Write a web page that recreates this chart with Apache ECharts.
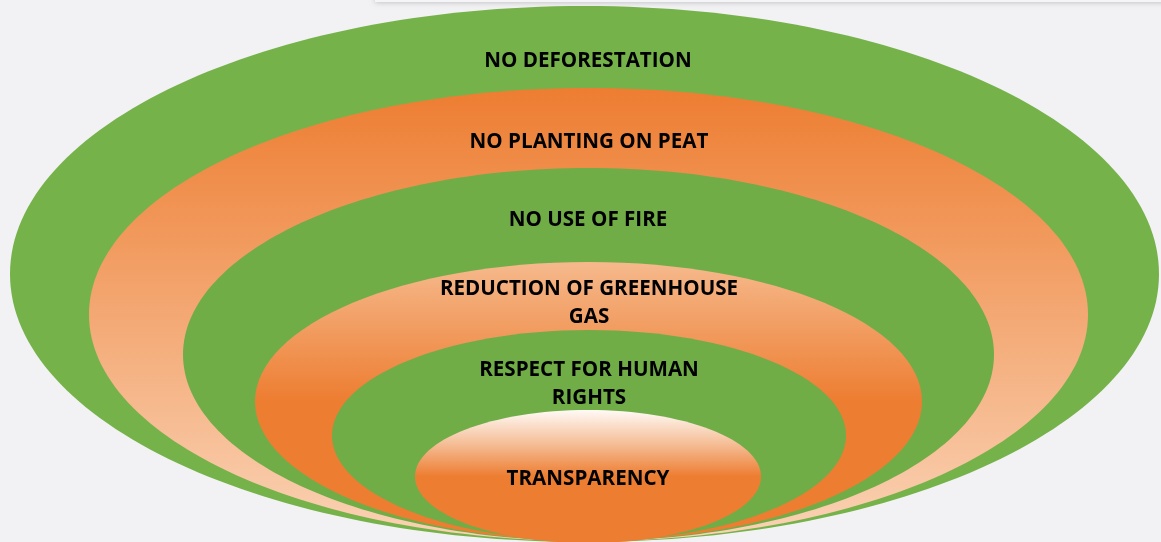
<!DOCTYPE html>
<html>
<head>
<meta charset="utf-8">
<script src="https://cdn.jsdelivr.net/npm/echarts@6/dist/echarts.min.js"></script>
<style>
html,body{margin:0;padding:0;background:#f2f2f4;}
#chart{width:1161px;height:542px;}
</style>
</head>
<body>
<div id="chart"></div>
<script>
// Layers from outermost to innermost
const layerNames = [
  'NO DEFORESTATION',
  'NO PLANTING ON PEAT',
  'NO USE OF FIRE',
  'REDUCTION OF GREENHOUSE\nGAS',
  'RESPECT FOR HUMAN\nRIGHTS',
  'TRANSPARENCY'
];
// Ellipse extents in diagram units
const layerLeft   = [10, 89, 183, 255, 332, 415];
const layerRight  = [1159, 1088, 994, 922, 846, 761];
const layerTop    = [6, 88, 168, 262, 330, 410];
const layerBottom = [542, 541, 541, 541, 541, 543];
const labelX = [588, 589, 588, 589, 589, 588];
const labelY = [61.5, 142.5, 220.5, 303, 384, 479.5];

const G = echarts.graphic.LinearGradient;
const fills = [
  '#76b24a',
  new G(0, 0, 0, 1, [{offset: 0, color: '#ed7d31'}, {offset: 1, color: '#fad3b6'}]),
  '#70ad47',
  new G(0, 0, 0, 1, [{offset: 0, color: '#f6b98c'}, {offset: 0.5, color: '#ed7d31'}, {offset: 1, color: '#ed7d31'}]),
  '#70ad47',
  new G(0, 0, 0, 1, [{offset: 0, color: '#fffaf6'}, {offset: 0.25, color: '#f5bf98'}, {offset: 0.5, color: '#ed7d31'}, {offset: 1, color: '#ed7d31'}])
];

const ellipseData = layerNames.map((n, i) => [
  (layerLeft[i] + layerRight[i]) / 2,
  (layerTop[i] + layerBottom[i]) / 2,
  (layerRight[i] - layerLeft[i]) / 2,
  (layerBottom[i] - layerTop[i]) / 2
]);
const labelData = layerNames.map((n, i) => [labelX[i], labelY[i]]);

const chart = echarts.init(document.getElementById('chart'));
chart.setOption({
  backgroundColor: '#f2f2f4',
  animation: false,
  grid: {left: 0, right: 0, top: 0, bottom: 0},
  xAxis: {type: 'value', min: 0, max: 1161, show: false},
  yAxis: {type: 'value', min: 0, max: 542, inverse: true, show: false},
  graphic: [{
    type: 'rect',
    shape: {x: 375, y: -20, width: 800, height: 22},
    style: {fill: '#f5f5f7', shadowBlur: 5, shadowColor: 'rgba(0,0,0,0.18)', shadowOffsetY: 1},
    z: 100
  }],
  series: [{
    type: 'custom',
    coordinateSystem: 'cartesian2d',
    data: ellipseData,
    renderItem: function (params, api) {
      const c = api.coord([api.value(0), api.value(1)]);
      const s = api.size([api.value(2), api.value(3)]);
      return {
        type: 'ellipse',
        shape: {cx: c[0], cy: c[1], rx: s[0], ry: s[1]},
        style: {fill: fills[params.dataIndex]}
      };
    },
    z: 1
  }, {
    type: 'custom',
    coordinateSystem: 'cartesian2d',
    data: labelData,
    renderItem: function (params, api) {
      const c = api.coord([api.value(0), api.value(1)]);
      return {
        type: 'text',
        style: {
          text: layerNames[params.dataIndex],
          x: c[0], y: c[1],
          align: 'center', verticalAlign: 'middle',
          font: 'bold 20.6px "Open Sans"',
          lineHeight: 28,
          fill: '#000'
        }
      };
    },
    z: 5
  }]
});
</script>
</body>
</html>
